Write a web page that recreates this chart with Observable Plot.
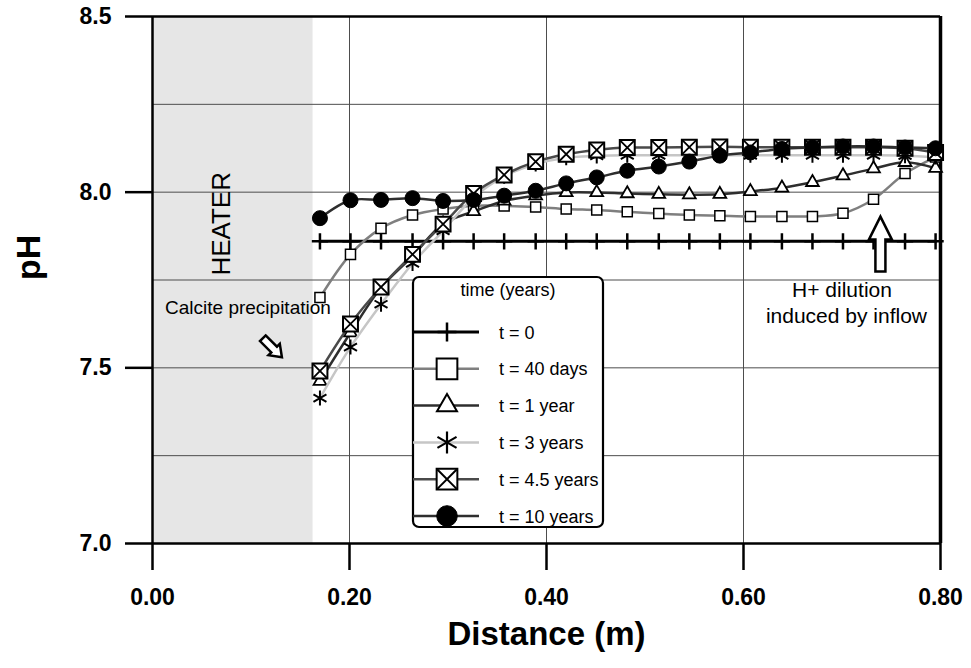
<!DOCTYPE html>
<html>
<head>
<meta charset="utf-8">
<script src="https://cdn.jsdelivr.net/npm/d3@7"></script>
<script src="https://cdn.jsdelivr.net/npm/@observablehq/plot@0.6"></script>
<style>
  body { margin: 0; background: #fff; }
  #chart { width: 971px; height: 668px; }
</style>
</head>
<body>
<div id="chart"></div>
<script>
// ---------- DATA ----------
const distance = [0.170, 0.201, 0.232, 0.264, 0.295, 0.326, 0.357, 0.389, 0.420, 0.451, 0.482,
                  0.514, 0.545, 0.576, 0.607, 0.639, 0.670, 0.701, 0.732, 0.764, 0.795];
const ph_t0   = [7.86, 7.86, 7.86, 7.86, 7.86, 7.86, 7.86, 7.86, 7.86, 7.86, 7.86,
                 7.86, 7.86, 7.86, 7.86, 7.86, 7.86, 7.86, 7.86, 7.86, 7.86];
const ph_40d  = [7.700, 7.823, 7.897, 7.935, 7.952, 7.961, 7.961, 7.958, 7.952, 7.949, 7.944,
                 7.939, 7.935, 7.933, 7.931, 7.931, 7.931, 7.940, 7.980, 8.053, 8.100];
const ph_1y   = [7.462, 7.600, 7.728, 7.818, 7.910, 7.945, 7.975, 7.990, 7.999, 7.999, 7.996,
                 7.994, 7.993, 7.994, 8.002, 8.012, 8.028, 8.047, 8.067, 8.085, 8.068];
const ph_3y   = [7.414, 7.559, 7.681, 7.797, 7.890, 7.985, 8.045, 8.080, 8.098, 8.103, 8.105,
                 8.105, 8.105, 8.105, 8.105, 8.105, 8.105, 8.105, 8.105, 8.104, 8.100];
const ph_45y  = [7.491, 7.625, 7.730, 7.823, 7.909, 7.996, 8.049, 8.087, 8.108, 8.120, 8.127,
                 8.127, 8.128, 8.129, 8.128, 8.128, 8.128, 8.128, 8.128, 8.125, 8.113];
const ph_10y  = [7.926, 7.977, 7.978, 7.983, 7.975, 7.978, 7.990, 8.004, 8.025, 8.042, 8.061,
                 8.073, 8.087, 8.104, 8.113, 8.123, 8.127, 8.130, 8.130, 8.127, 8.125];

const seriesNames  = ["t = 0", "t = 40 days", "t = 1 year", "t = 3 years", "t = 4.5 years", "t = 10 years"];
const seriesValues = [ph_t0, ph_40d, ph_1y, ph_3y, ph_45y, ph_10y];
const legendTitle  = "time (years)";

const xTicks = [0, 0.2, 0.4, 0.6, 0.8];
const yTicks = [7.0, 7.5, 8.0, 8.5];
const xGrid  = [0.2, 0.4, 0.6];
const yGrid  = [7.25, 7.5, 7.75, 8.0, 8.25];
const heaterEnd = 0.163;

const annotations = [
  {x: 0.0705, y: 7.910, text: "HEATER", rotate: -90, size: 26},
  {x: 0.0969, y: 7.671, text: "Calcite precipitation", rotate: 0, size: 19},
  {x: 0.7000, y: 7.720, text: "H+ dilution", rotate: 0, size: 21},
  {x: 0.7045, y: 7.648, text: "induced by inflow", rotate: 0, size: 21}
];
const arrows = [
  {x: 0.1217, y: 7.557, dir: 135, anchor: "middle", kind: "small"},
  {x: 0.739,  y: 7.774, dir: 0,   anchor: "start",  kind: "big"}
];

// ---------- STYLES ----------
const FONT = "'Liberation Sans', Arial, Helvetica, sans-serif";
const lineColor = {
  "t = 0": "#000000", "t = 40 days": "#7f7f7f", "t = 1 year": "#2e2e2e",
  "t = 3 years": "#c6c6c6", "t = 4.5 years": "#4a4a4a", "t = 10 years": "#2e2e2e"
};
const lineWidth = {"t = 0": 3, "t = 40 days": 2.5, "t = 1 year": 2.5, "t = 3 years": 2.5, "t = 4.5 years": 2.5, "t = 10 years": 2.5};

// ---------- TABLE ----------
const rows = seriesNames.flatMap((s, i) => distance.map((x, j) => ({series: s, x, pH: seriesValues[i][j]})));
const of = s => rows.filter(d => d.series === s);

// hollow block arrow shapes for Plot.vector
function blockArrow(headHalf, headLen, shaftHalf) {
  return {
    draw(ctx, l) {
      const b = -(l - headLen);
      ctx.moveTo(-shaftHalf, 0);
      ctx.lineTo(-shaftHalf, b);
      ctx.lineTo(-headHalf, b);
      ctx.lineTo(0, -l);
      ctx.lineTo(headHalf, b);
      ctx.lineTo(shaftHalf, b);
      ctx.lineTo(shaftHalf, 0);
      ctx.closePath();
    }
  };
}
const arrowShapes = {small: blockArrow(8, 11, 4), big: blockArrow(11.5, 23, 5)};
const arrowLen = {small: 27, big: 55};

// per-series marker marks
function markers(s) {
  const d = of(s);
  switch (s) {
    case "t = 0": return [Plot.dot(d, {x: "x", y: "pH", symbol: "plus", r: 5.3, fill: "none", stroke: "#000", strokeWidth: 2.5})];
    case "t = 40 days": return [Plot.dot(d, {x: "x", y: "pH", symbol: "square2", r: 6.4, fill: "#fff", stroke: "#000", strokeWidth: 1.5})];
    case "t = 1 year": return [Plot.dot(d, {x: "x", y: "pH", symbol: "triangle2", r: 6.1, fill: "#fff", stroke: "#000", strokeWidth: 1.8})];
    case "t = 3 years": return [Plot.dot(d, {x: "x", y: "pH", symbol: "asterisk", r: 7.1, fill: "none", stroke: "#000", strokeWidth: 2})];
    case "t = 4.5 years": return [
      Plot.dot(d, {x: "x", y: "pH", symbol: "square2", r: 9.5, fill: "#fff", stroke: "#000", strokeWidth: 2}),
      Plot.dot(d, {x: "x", y: "pH", symbol: "times", r: 6.9, fill: "none", stroke: "#000", strokeWidth: 1.8})];
    case "t = 10 years": return [Plot.dot(d, {x: "x", y: "pH", r: 7.5, fill: "#000", stroke: "#000", strokeWidth: 1})];
  }
}

const chart = Plot.plot({
  width: 971,
  height: 668,
  marginLeft: 152,
  marginRight: 31,
  marginTop: 16,
  marginBottom: 125,
  style: {fontFamily: FONT, background: "#fff", color: "#000"},
  x: {domain: [0, 0.8]},
  y: {domain: [7.0, 8.5]},
  marks: [
    Plot.rect([heaterEnd], {x1: 0, x2: d => d, y1: 7.0, y2: 8.5, fill: "#e6e6e6"}),
    Plot.ruleX(xGrid, {stroke: "#4d4d4d", strokeWidth: 1}),
    Plot.ruleY(yGrid, {stroke: "#4d4d4d", strokeWidth: 1}),
    Plot.ruleY([8.5], {stroke: "#000", strokeWidth: 2.5}),
    Plot.ruleX([0.8], {stroke: "#000", strokeWidth: 3.5}),
    Plot.ruleX([0], {stroke: "#000", strokeWidth: 2.5}),
    Plot.ruleY([7.0], {stroke: "#000", strokeWidth: 2.5}),
    Plot.axisX({ticks: xTicks, tickFormat: d3.format(".2f"), tickSize: 27, tickPadding: 18,
      fontSize: 23, fontWeight: "bold", stroke: "#000", strokeWidth: 2.5, label: null}),
    Plot.axisY({ticks: yTicks, tickFormat: d3.format(".1f"), tickSize: 27, tickPadding: 14,
      fontSize: 23, fontWeight: "bold", stroke: "#000", strokeWidth: 2.5, label: null}),
    ...seriesNames.flatMap(s => [
      Plot.line(of(s), {x: "x", y: "pH", stroke: lineColor[s], strokeWidth: lineWidth[s], curve: "catmull-rom"}),
      ...markers(s)
    ]),
    Plot.text(annotations, {x: "x", y: "y", text: "text", rotate: "rotate", fontSize: d => d.size, fill: "#000", fontWeight: "normal"}),
    ...arrows.map(a => Plot.vector([a], {x: "x", y: "y", rotate: a.dir, anchor: a.anchor, length: arrowLen[a.kind],
      shape: arrowShapes[a.kind], fill: "#fff", stroke: "#000", strokeWidth: 2.5, strokeLinejoin: "miter", strokeLinecap: "butt"})),
    Plot.text(["Distance (m)"], {text: d => d, frameAnchor: "bottom", dy: 101.5, fontSize: 33, fontWeight: "bold"}),
    Plot.text(["pH"], {text: d => d, frameAnchor: "left", dx: -123, rotate: -90, fontSize: 34, fontWeight: "bold"})
  ]
});

// ---------- LEGEND (drawn inside the plot area) ----------
const svg = d3.select(chart);
const L = {x0: 413, x1: 603, y0: 277, y1: 527, lineEnd: 479, markX: 447, textX: 499, rowY0: 332, rowStep: 36.8};
const lg = svg.append("g").attr("font-family", FONT).attr("font-size", 18).attr("font-weight", "normal");
lg.append("rect").attr("x", L.x0).attr("y", L.y0).attr("width", L.x1 - L.x0).attr("height", L.y1 - L.y0)
  .attr("rx", 6).attr("fill", "#fff").attr("stroke", "#000").attr("stroke-width", 2.2);
lg.append("text").attr("x", (L.x0 + L.x1) / 2).attr("y", 296).attr("text-anchor", "middle").attr("fill", "#000").text(legendTitle);
const legendSym = {
  "t = 0": [{t: d3.symbolPlus, s: 118, fill: "none", sw: 2.5}],
  "t = 40 days": [{t: d3.symbolSquare2, s: 546, fill: "#fff", sw: 2}],
  "t = 1 year": [{t: d3.symbolTriangle2, s: 286, fill: "#fff", sw: 2}],
  "t = 3 years": [{t: d3.symbolAsterisk, s: 343, fill: "none", sw: 2.2}],
  "t = 4.5 years": [{t: d3.symbolSquare2, s: 546, fill: "#fff", sw: 2}, {t: d3.symbolTimes, s: 245, fill: "none", sw: 2}],
  "t = 10 years": [{t: d3.symbolCircle, s: 333, fill: "#000", sw: 1}]
};
seriesNames.forEach((s, i) => {
  const y = L.rowY0 + i * L.rowStep;
  const g = lg.append("g");
  g.append("line").attr("x1", L.x0).attr("x2", L.lineEnd).attr("y1", y).attr("y2", y)
    .attr("stroke", lineColor[s]).attr("stroke-width", lineWidth[s]);
  legendSym[s].forEach(m => {
    g.append("path").attr("d", d3.symbol(m.t, m.s)()).attr("transform", `translate(${L.markX},${y})`)
      .attr("fill", m.fill).attr("stroke", "#000").attr("stroke-width", m.sw);
  });
  g.append("text").attr("x", L.textX).attr("y", y + 6.5).attr("text-anchor", "start").attr("fill", "#000").text(s);
});

document.getElementById("chart").appendChild(chart);
</script>
</body>
</html>
